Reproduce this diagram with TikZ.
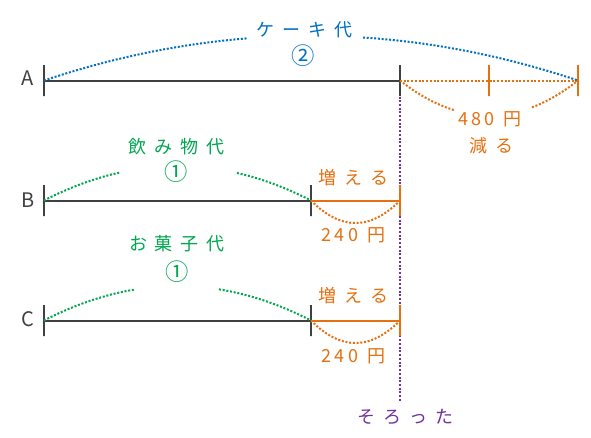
\documentclass[tikz,border=0pt]{standalone}
\usepackage{fontspec}
\setmainfont{Noto Sans CJK JP}
\usetikzlibrary{calc}

\definecolor{barcol}{HTML}{404040}
\definecolor{cakecol}{HTML}{0070C0}
\definecolor{drinkcol}{HTML}{00A650}
\definecolor{diffcol}{HTML}{E4700F}
\definecolor{samecol}{HTML}{7030A0}

\newcommand{\js}{\hspace{6pt}}
\newcommand{\ds}{\hspace{2.5pt}}

\begin{document}
\begin{tikzpicture}[x=0.75pt,y=-0.75pt,
	every node/.style={font=\fontsize{13.5}{16}\selectfont, inner sep=0pt},
	barend/.style={draw=barcol, line width=1.5pt, minimum width=0pt, minimum height=23.25pt, outer sep=0pt},
	bar/.style={draw=barcol, line width=1.5pt},
	rowlabel/.style={text=barcol, font=\fontsize{15}{17}\selectfont},
	share/.style={font=\fontsize{17.5}{20}\selectfont},
	dots/.style={line width=1.5pt, dash pattern=on 1.5pt off 1.3pt}]
	
	\useasboundingbox (0,0) rectangle (591,437);
	
	\coordinate (A0) at (44,80.5);
	\coordinate (A1) at (400,80.5);
	\coordinate (A2) at (489,80.5);
	\coordinate (A3) at (578,80.5);
	\coordinate (B0) at (44,200.5);
	\coordinate (B1) at (311,200.5);
	\coordinate (B2) at (400,200.5);
	\coordinate (C0) at (44,320.5);
	\coordinate (C1) at (311,320.5);
	\coordinate (C2) at (400,320.5);
	
	%---------------------------------------------
	
	\node[text=samecol] (sorotta) at (405.5,416.5) {そ\js ろ\js っ\js た};
	\coordinate (sameend) at (400,402);
	\draw[samecol, dots, line width=1.4pt] ($(A1)+(0,16)$) -- (sameend);
	
	%---------------------------------------------
	
	\draw[bar] (A0) -- (A1);
	\draw[bar] (B0) -- (B1);
	\draw[bar] (C0) -- (C1);
	
	\draw[diffcol, dots] (A1) -- (A3);
	\draw[diffcol, line width=1.5pt] (B1) -- (B2);
	\draw[diffcol, line width=1.5pt] (C1) -- (C2);
	
	\node[barend] (tA0) at (A0) {};
	\node[barend] (tA1) at (A1) {};
	\node[barend, draw=diffcol] (tA2) at (A2) {};
	\node[barend, draw=diffcol] (tA3) at (A3) {};
	\node[barend] (tB0) at (B0) {};
	\node[barend] (tB1) at (B1) {};
	\node[barend, draw=diffcol] (tB2) at (B2) {};
	\node[barend] (tC0) at (C0) {};
	\node[barend] (tC1) at (C1) {};
	\node[barend, draw=diffcol] (tC2) at (C2) {};
	
	\node[rowlabel] (labA) at (28,78) {A};
	\node[rowlabel] (labB) at (28,200) {B};
	\node[rowlabel] (labC) at (28,319) {C};
	
	%---------------------------------------------
	
	\node[text=cakecol] (cake) at (304.5,30) {ケ\js ー\js キ\js 代};
	\node[text=cakecol, share] (cakenum) at (303.5,56) {②};
	\draw[cakecol, dots] plot[domain=44:247, samples=40] (\x, {80.5-44.7*(1-((\x-311)/267)^2)});
	\draw[cakecol, dots] plot[domain=363:578, samples=40] (\x, {80.5-44.7*(1-((\x-311)/267)^2)});
	
	\node[text=diffcol] (lessyen) at (490,119) {4\ds 8\ds 0\hspace{7pt}円};
	\node[text=diffcol] (less) at (491.5,145.5) {減\js る};
	\draw[diffcol, dots] plot[domain=400:455, samples=20] (\x, {80.5+35*(1-((\x-489)/89)^2)});
	\draw[diffcol, dots] plot[domain=532:578, samples=20] (\x, {80.5+35*(1-((\x-489)/89)^2)});
	
	%---------------------------------------------
	
	\node[text=drinkcol] (drink) at (176.5,147) {飲\js み\js 物\js 代};
	\node[text=drinkcol, share] (drinknum) at (176.5,172) {①};
	\draw[drinkcol, dots] plot[domain=44:120, samples=20] (\x, {200.5-34.4*(1-((\x-177.5)/133.5)^2)});
	\draw[drinkcol, dots] plot[domain=237:311, samples=20] (\x, {200.5-34.4*(1-((\x-177.5)/133.5)^2)});
	
	\node[text=diffcol] (moreB) at (353.5,177.5) {増\js え\js る};
	\node[text=diffcol] (yenB) at (353.5,235.5) {2\ds 4\ds 0\hspace{7pt}円};
	\draw[diffcol, dots] plot[domain=311:400, samples=30] (\x, {200.5+22.5*(1-((\x-355.5)/44.5)^2)});
	
	%---------------------------------------------
	
	\node[text=drinkcol] (snack) at (177,244) {お\js 菓\js 子\js 代};
	\node[text=drinkcol, share] (snacknum) at (177,271.5) {①};
	\draw[drinkcol, dots] plot[domain=44:135, samples=20] (\x, {320.5-34.5*(1-((\x-177.5)/133.5)^2)});
	\draw[drinkcol, dots] plot[domain=219:311, samples=20] (\x, {320.5-34.5*(1-((\x-177.5)/133.5)^2)});
	
	\node[text=diffcol] (moreC) at (353.5,296) {増\js え\js る};
	\node[text=diffcol] (yenC) at (353.5,356) {2\ds 4\ds 0\hspace{7pt}円};
	\draw[diffcol, dots] plot[domain=311:400, samples=30] (\x, {320.5+22.5*(1-((\x-355.5)/44.5)^2)});
	
	%---------------------------------------------
	
\end{tikzpicture}
\end{document}
